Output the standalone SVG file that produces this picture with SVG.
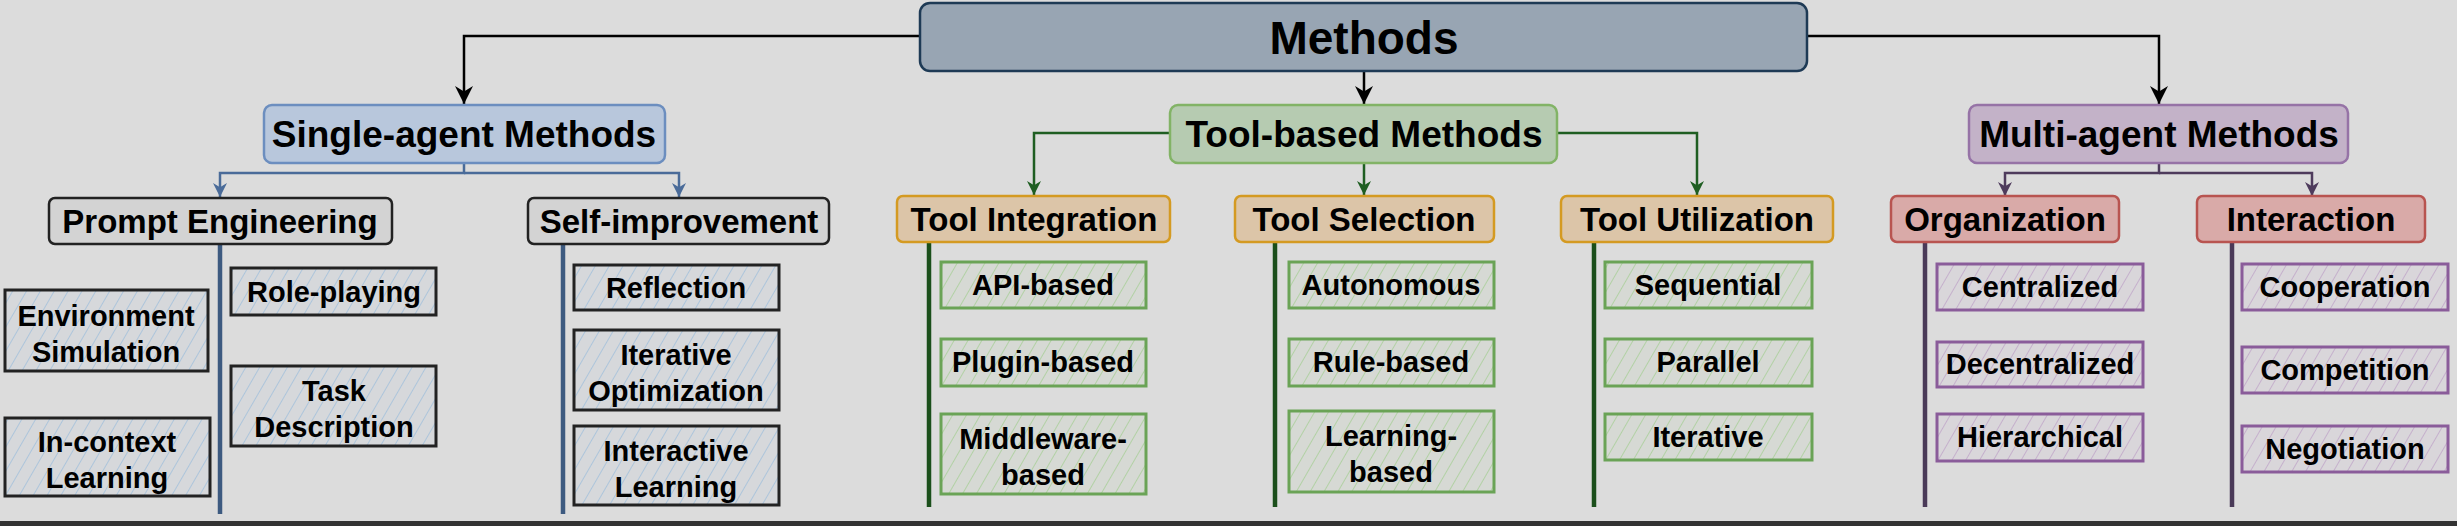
<svg xmlns="http://www.w3.org/2000/svg" width="2457" height="526" viewBox="0 0 2457 526">
<defs>
<style>
text{font-family:"Liberation Sans",Arial,sans-serif;font-weight:bold;fill:#000;text-anchor:middle}
.t0{font-size:46px}.t1{font-size:37px}.t2{font-size:33px}.t3{font-size:29px}
.c{fill:none;stroke-width:2.5}
.leafB{fill:url(#hB);stroke:#222;stroke-width:3}
.leafG{fill:url(#hG);stroke:#6aa356;stroke-width:3}
.leafP{fill:url(#hP);stroke:#8a5c9a;stroke-width:3}
</style>
<pattern id="hB" width="12" height="12" patternUnits="userSpaceOnUse" patternTransform="rotate(30)"><rect width="12" height="12" fill="#d6d8db"/><line x1="0" y1="0" x2="0" y2="12" stroke="#9fbfdc" stroke-width="1.5"/></pattern>
<pattern id="hG" width="12" height="12" patternUnits="userSpaceOnUse" patternTransform="rotate(30)"><rect width="12" height="12" fill="#d6d9d4"/><line x1="0" y1="0" x2="0" y2="12" stroke="#a6cf96" stroke-width="1.5"/></pattern>
<pattern id="hP" width="12" height="12" patternUnits="userSpaceOnUse" patternTransform="rotate(30)"><rect width="12" height="12" fill="#d9d6da"/><line x1="0" y1="0" x2="0" y2="12" stroke="#bfa3c8" stroke-width="1.5"/></pattern>
<marker id="aB" viewBox="0 0 10 10" refX="10" refY="5" markerWidth="14" markerHeight="14" orient="auto" markerUnits="userSpaceOnUse"><path d="M0,0 L10,5 L0,10 L3,5 Z" fill="#4a6b99"/></marker>
<marker id="aG" viewBox="0 0 10 10" refX="10" refY="5" markerWidth="14" markerHeight="14" orient="auto" markerUnits="userSpaceOnUse"><path d="M0,0 L10,5 L0,10 L3,5 Z" fill="#1f5e22"/></marker>
<marker id="aP" viewBox="0 0 10 10" refX="10" refY="5" markerWidth="14" markerHeight="14" orient="auto" markerUnits="userSpaceOnUse"><path d="M0,0 L10,5 L0,10 L3,5 Z" fill="#4e3b5c"/></marker>
<marker id="aK2" viewBox="0 0 10 10" refX="10" refY="5" markerWidth="18" markerHeight="18" orient="auto" markerUnits="userSpaceOnUse"><path d="M0,0 L10,5 L0,10 L3,5 Z" fill="#000"/></marker>
</defs>
<rect width="2457" height="526" fill="#dcdcdc"/>
<rect x="0" y="521" width="2457" height="5" fill="#333"/>

<g id="connectors">
<path class="c" stroke="#000" d="M920,36 H464 V104" marker-end="url(#aK2)"/>
<path class="c" stroke="#000" d="M1807,36 H2159 V104" marker-end="url(#aK2)"/>
<path class="c" stroke="#000" d="M1364,71 V104" marker-end="url(#aK2)"/>
<path class="c" stroke="#4a6b99" d="M464,163 V173 H220 V197" marker-end="url(#aB)"/>
<path class="c" stroke="#4a6b99" d="M464,173 H679 V197" marker-end="url(#aB)"/>
<path class="c" stroke="#1f5e22" d="M1170,133 H1034 V195" marker-end="url(#aG)"/>
<path class="c" stroke="#1f5e22" d="M1364,163 V195" marker-end="url(#aG)"/>
<path class="c" stroke="#1f5e22" d="M1557,133 H1697 V195" marker-end="url(#aG)"/>
<path class="c" stroke="#4e3b5c" d="M2159,163 V173 H2005 V196" marker-end="url(#aP)"/>
<path class="c" stroke="#4e3b5c" d="M2159,173 H2312 V196" marker-end="url(#aP)"/>
<g stroke-width="4.5" fill="none">
<path stroke="#3d5a80" d="M220,244 V514 M563,244 V514"/>
<path stroke="#1b4f1b" d="M929,242 V507 M1275,242 V507 M1594,242 V507"/>
<path stroke="#4a3a58" d="M1925,242 V507 M2232,242 V507"/>
</g>
</g>

<g id="methods"><rect x="920" y="3" width="887" height="68" rx="10" fill="#98a5b3" stroke="#1e3a55" stroke-width="2.5"/><text class="t0" x="1364" y="54">Methods</text></g>

<g id="single"><rect x="264" y="105" width="401" height="58" rx="8" fill="#b8c7dc" stroke="#6c8ebf" stroke-width="2.5"/><text class="t1" x="464" y="147">Single-agent Methods</text></g>
<g id="tool"><rect x="1170" y="105" width="387" height="58" rx="8" fill="#b6cbb1" stroke="#82b366" stroke-width="2.5"/><text class="t1" x="1364" y="147">Tool-based Methods</text></g>
<g id="multi"><rect x="1969" y="105" width="379" height="58" rx="8" fill="#c3b2c8" stroke="#9673a6" stroke-width="2.5"/><text class="t1" x="2159" y="147">Multi-agent Methods</text></g>

<g id="prompt"><rect x="49" y="198" width="343" height="46" rx="6" fill="#d3d3d3" stroke="#222" stroke-width="2.5"/><text class="t2" x="220" y="233">Prompt Engineering</text></g>
<g id="selfimp"><rect x="528" y="198" width="301" height="46" rx="6" fill="#d3d3d3" stroke="#222" stroke-width="2.5"/><text class="t2" x="679" y="233">Self-improvement</text></g>
<g id="integ"><rect x="897" y="196" width="273" height="46" rx="6" fill="#dcc5a8" stroke="#d49a22" stroke-width="2.5"/><text class="t2" x="1034" y="231">Tool Integration</text></g>
<g id="selec"><rect x="1235" y="196" width="259" height="46" rx="6" fill="#dcc5a8" stroke="#d49a22" stroke-width="2.5"/><text class="t2" x="1364" y="231">Tool Selection</text></g>
<g id="util"><rect x="1561" y="196" width="272" height="46" rx="6" fill="#dcc5a8" stroke="#d49a22" stroke-width="2.5"/><text class="t2" x="1697" y="231">Tool Utilization</text></g>
<g id="org"><rect x="1891" y="196" width="228" height="46" rx="6" fill="#d9aaa8" stroke="#b85450" stroke-width="2.5"/><text class="t2" x="2005" y="231">Organization</text></g>
<g id="inter"><rect x="2197" y="196" width="228" height="46" rx="6" fill="#d9aaa8" stroke="#b85450" stroke-width="2.5"/><text class="t2" x="2311" y="231">Interaction</text></g>

<g id="envsim"><rect class="leafB" x="5" y="290" width="203" height="81"/><text class="t3" x="106" y="326">Environment</text><text class="t3" x="106" y="362">Simulation</text></g>
<g id="role"><rect class="leafB" x="231" y="268" width="205" height="47"/><text class="t3" x="334" y="302">Role-playing</text></g>
<g id="task"><rect class="leafB" x="231" y="366" width="205" height="80"/><text class="t3" x="334" y="401">Task</text><text class="t3" x="334" y="437">Description</text></g>
<g id="incontext"><rect class="leafB" x="5" y="418" width="205" height="78"/><text class="t3" x="107" y="452">In-context</text><text class="t3" x="107" y="488">Learning</text></g>
<g id="refl"><rect class="leafB" x="574" y="265" width="205" height="45"/><text class="t3" x="676" y="298">Reflection</text></g>
<g id="iteropt"><rect class="leafB" x="574" y="330" width="205" height="80"/><text class="t3" x="676" y="365">Iterative</text><text class="t3" x="676" y="401">Optimization</text></g>
<g id="interl"><rect class="leafB" x="574" y="426" width="205" height="79"/><text class="t3" x="676" y="461">Interactive</text><text class="t3" x="676" y="497">Learning</text></g>

<g id="api"><rect class="leafG" x="941" y="262" width="205" height="46"/><text class="t3" x="1043" y="295">API-based</text></g>
<g id="plugin"><rect class="leafG" x="941" y="339" width="205" height="47"/><text class="t3" x="1043" y="372">Plugin-based</text></g>
<g id="middle"><rect class="leafG" x="941" y="414" width="205" height="80"/><text class="t3" x="1043" y="449">Middleware-</text><text class="t3" x="1043" y="485">based</text></g>
<g id="auto"><rect class="leafG" x="1289" y="262" width="205" height="46"/><text class="t3" x="1391" y="295">Autonomous</text></g>
<g id="rule"><rect class="leafG" x="1289" y="339" width="205" height="47"/><text class="t3" x="1391" y="372">Rule-based</text></g>
<g id="learn"><rect class="leafG" x="1289" y="411" width="205" height="81"/><text class="t3" x="1391" y="446">Learning-</text><text class="t3" x="1391" y="482">based</text></g>
<g id="seq"><rect class="leafG" x="1605" y="262" width="207" height="46"/><text class="t3" x="1708" y="295">Sequential</text></g>
<g id="par"><rect class="leafG" x="1605" y="339" width="207" height="47"/><text class="t3" x="1708" y="372">Parallel</text></g>
<g id="iter"><rect class="leafG" x="1605" y="414" width="207" height="46"/><text class="t3" x="1708" y="447">Iterative</text></g>

<g id="cent"><rect class="leafP" x="1937" y="264" width="206" height="46"/><text class="t3" x="2040" y="297">Centralized</text></g>
<g id="decent"><rect class="leafP" x="1937" y="342" width="206" height="45"/><text class="t3" x="2040" y="374">Decentralized</text></g>
<g id="hier"><rect class="leafP" x="1937" y="414" width="206" height="47"/><text class="t3" x="2040" y="447">Hierarchical</text></g>
<g id="coop"><rect class="leafP" x="2242" y="264" width="206" height="46"/><text class="t3" x="2345" y="297">Cooperation</text></g>
<g id="comp"><rect class="leafP" x="2242" y="347" width="206" height="46"/><text class="t3" x="2345" y="380">Competition</text></g>
<g id="nego"><rect class="leafP" x="2242" y="426" width="206" height="46"/><text class="t3" x="2345" y="459">Negotiation</text></g>
</svg>
